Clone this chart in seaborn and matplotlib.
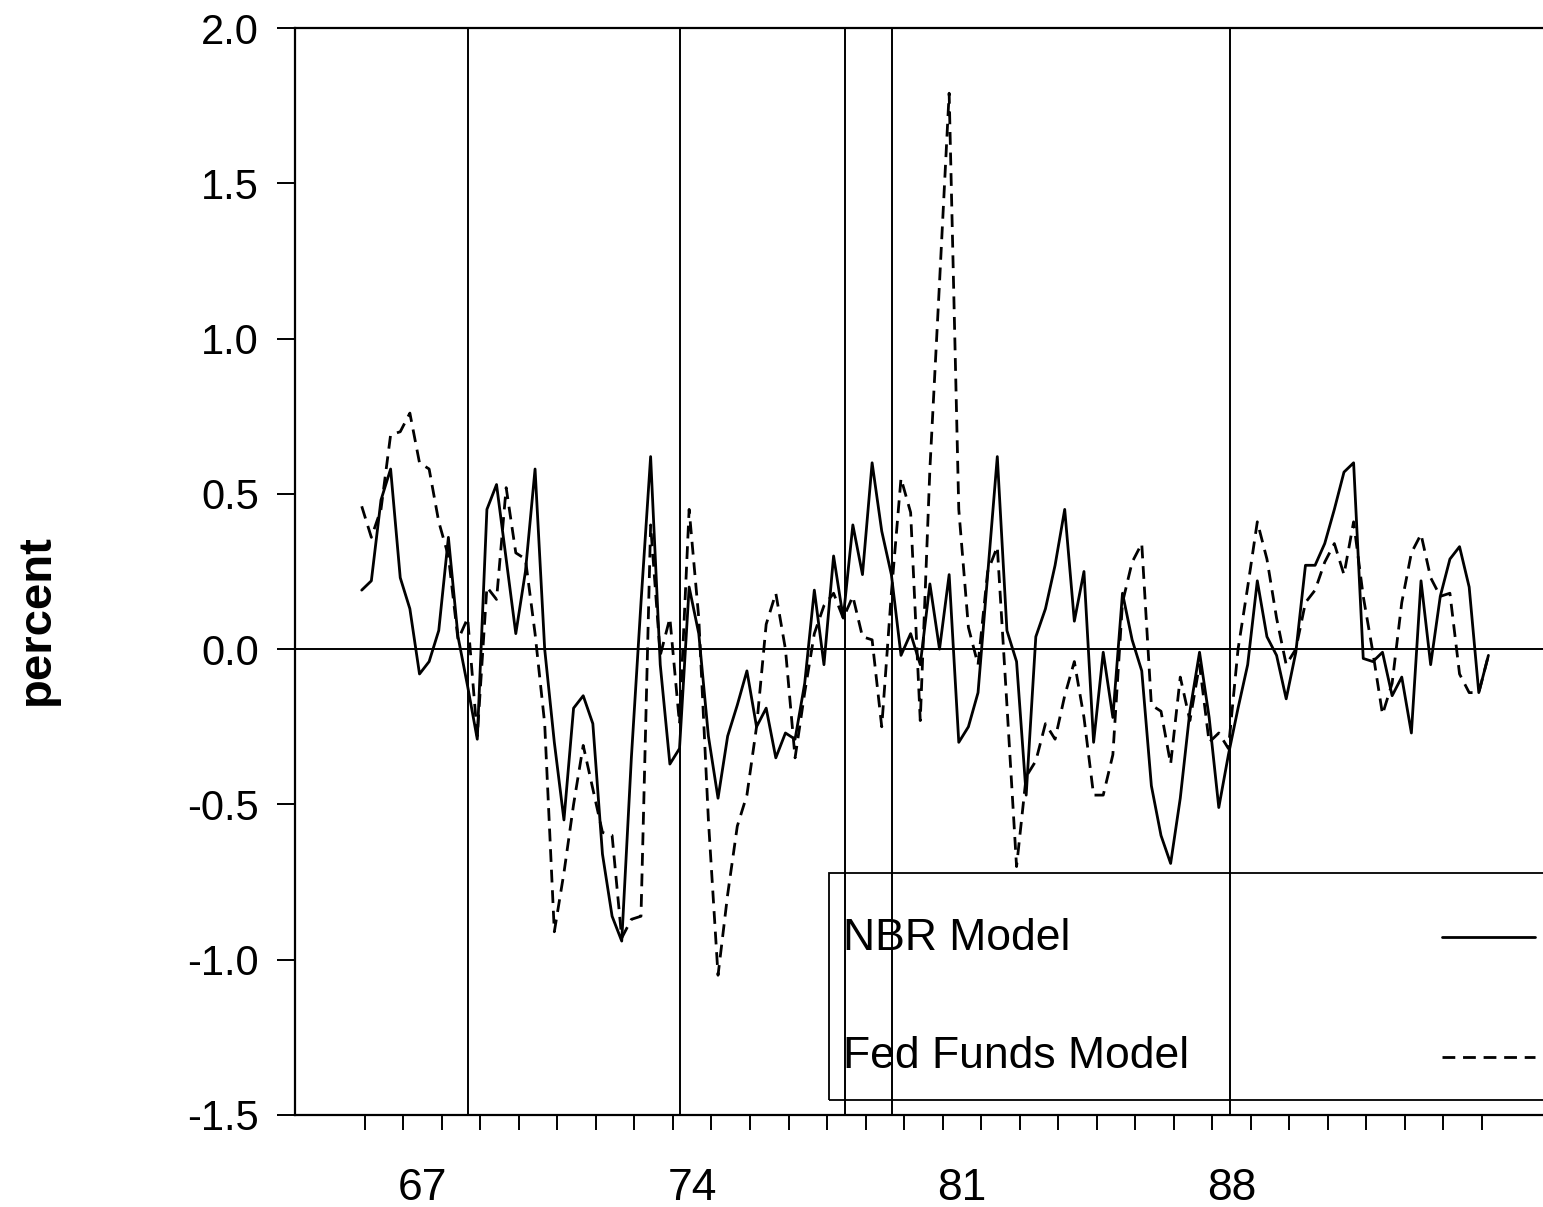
import numpy as np
import pandas as pd
import matplotlib
matplotlib.use("Agg")
import matplotlib.pyplot as plt
from matplotlib.lines import Line2D
from matplotlib.patches import Rectangle
import seaborn as sns

# ---------------- data ----------------
start_year = 65.92         # first quarter plotted (1966:Q1 as drawn)
quarter_step = 0.25

nbr_model = [
    0.19, 0.22, 0.48, 0.58, 0.23, 0.13, -0.08, -0.04, 0.06, 0.36,
    0.04, -0.12, -0.29, 0.45, 0.53, 0.29, 0.05, 0.25, 0.58, 0.00,
    -0.30, -0.55, -0.19, -0.15, -0.24, -0.66, -0.86, -0.94, -0.35, 0.15,
    0.62, -0.05, -0.37, -0.32, 0.20, 0.05, -0.28, -0.48, -0.28, -0.18,
    -0.07, -0.25, -0.19, -0.35, -0.27, -0.29, -0.11, 0.19, -0.05, 0.30,
    0.10, 0.40, 0.24, 0.60, 0.38, 0.24, -0.02, 0.05, -0.05, 0.21,
    0.00, 0.24, -0.30, -0.25, -0.14, 0.24, 0.62, 0.06, -0.04, -0.47,
    0.04, 0.13, 0.27, 0.45, 0.09, 0.25, -0.30, -0.01, -0.22, 0.18,
    0.03, -0.07, -0.44, -0.60, -0.69, -0.48, -0.20, -0.01, -0.22, -0.51,
    -0.34, -0.19, -0.05, 0.22, 0.04, -0.02, -0.16, -0.01, 0.27, 0.27,
    0.34, 0.45, 0.57, 0.60, -0.03, -0.04, -0.01, -0.15, -0.09, -0.27,
    0.22, -0.05, 0.17, 0.29, 0.33, 0.20, -0.14, -0.02,
]

fed_funds_model = [
    0.46, 0.36, 0.45, 0.69, 0.70, 0.76, 0.60, 0.58, 0.41, 0.30,
    0.03, 0.10, -0.28, 0.20, 0.16, 0.52, 0.31, 0.29, 0.05, -0.24,
    -0.91, -0.72, -0.50, -0.31, -0.45, -0.59, -0.60, -0.93, -0.87, -0.86,
    0.40, -0.02, 0.10, -0.24, 0.45, 0.10, -0.55, -1.05, -0.79, -0.57,
    -0.47, -0.25, 0.08, 0.18, 0.00, -0.35, -0.14, 0.05, 0.14, 0.18,
    0.10, 0.17, 0.04, 0.03, -0.25, 0.18, 0.55, 0.44, -0.23, 0.58,
    1.18, 1.79, 0.45, 0.07, -0.05, 0.25, 0.33, -0.18, -0.70, -0.41,
    -0.36, -0.24, -0.29, -0.15, -0.04, -0.22, -0.47, -0.47, -0.34, 0.15,
    0.28, 0.34, -0.18, -0.20, -0.37, -0.09, -0.23, -0.05, -0.30, -0.27,
    -0.32, 0.00, 0.20, 0.41, 0.29, 0.10, -0.05, 0.00, 0.15, 0.19,
    0.28, 0.34, 0.24, 0.41, 0.17, -0.01, -0.21, -0.11, 0.15, 0.31,
    0.37, 0.23, 0.17, 0.18, -0.08, -0.14, -0.14, -0.02,
]

event_dates = [68.68, 74.19, 78.47, 79.68, 88.46]   # vertical reference lines
year_ticks = list(range(66, 96))                     # yearly tick marks
year_labels = ["67", "74", "81", "88"]
year_label_pos = [67.5, 74.5, 81.5, 88.5]
y_ticks = [2.0, 1.5, 1.0, 0.5, 0.0, -0.5, -1.0, -1.5]
series_names = ["NBR Model", "Fed Funds Model"]

n = len(nbr_model)
years = [start_year + quarter_step * i for i in range(n)]
df = pd.DataFrame({
    "year": years * 2,
    "value": nbr_model + fed_funds_model,
    "model": [series_names[0]] * n + [series_names[1]] * n,
})

# ---------------- style ----------------
sns.set_style("white")
plt.rcParams["font.family"] = ["Liberation Sans", "DejaVu Sans"]

W, H = 1543, 1207
fig = plt.figure(figsize=(W / 100, H / 100), dpi=100)
ax_left_px, ax_top_px, ax_bottom_px = 295, 28, 1115
ax_right_px = 1.03 * W
ax = fig.add_axes([ax_left_px / W, 1 - ax_bottom_px / H,
                   (ax_right_px - ax_left_px) / W,
                   (ax_bottom_px - ax_top_px) / H])

px_per_year = 38.52
x_left = 66 - (364.8 - ax_left_px) / px_per_year
x_right = x_left + (ax_right_px - ax_left_px) / px_per_year

lw_data = 2.0
dash_pat = (4.6, 2.8)
sns.lineplot(data=df, x="year", y="value", style="model",
             dashes={series_names[0]: "", series_names[1]: dash_pat},
             color="black", linewidth=lw_data, legend=False, ax=ax,
             estimator=None, sort=False)

ax.axhline(0, color="black", lw=1.4, zorder=1)
for d in event_dates:
    ax.axvline(d, color="black", lw=1.4, zorder=1)

ax.set_xlim(x_left, x_right)
ax.set_ylim(-1.5, 2.0)

# spines
for s in ["left", "top", "bottom", "right"]:
    ax.spines[s].set_color("black")
    ax.spines[s].set_linewidth(1.6)

# x ticks: yearly marks, labels centered within years
ax.set_xticks(year_ticks)
ax.set_xticklabels([""] * len(year_ticks))
ax.tick_params(axis="x", which="major", direction="out", length=11,
               width=1.4, color="black", bottom=True)
ax.set_xticks(year_label_pos, minor=True)
ax.set_xticklabels(year_labels, minor=True)
ax.tick_params(axis="x", which="minor", length=0, pad=38,
               labelsize=32, labelcolor="black")

ax.set_yticks(y_ticks)
ax.set_yticklabels([f"{v:.1f}" for v in y_ticks])
ax.tick_params(axis="y", direction="out", length=13, width=1.4,
               color="black", left=True, pad=13, labelsize=30,
               labelcolor="black")
ax.set_xlabel("")
ax.set_ylabel("")

fig.text(37 / W, 1 - 620 / H, "percent", rotation=90, fontsize=34,
         fontweight="bold", ha="center", va="center", color="black")

# legend box (drawn as in the original, extending past the right edge)
tf = fig.transFigure
fig.patches.append(Rectangle((829 / W, 1 - 1100 / H), (W + 40 - 829) / W,
                             (1100 - 873) / H, transform=tf, fill=False,
                             edgecolor="black", lw=1.3, zorder=5))
fig.text(843 / W, 1 - 938 / H, series_names[0], fontsize=32,
         ha="left", va="center", color="black")
fig.text(843 / W, 1 - 1057 / H, series_names[1], fontsize=32,
         ha="left", va="center", color="black")
fig.lines.append(Line2D([1442 / W, 1535 / W], [1 - 937 / H, 1 - 937 / H],
                        transform=tf, color="black", lw=lw_data))
fig.lines.append(Line2D([1442 / W, 1535 / W], [1 - 1057 / H, 1 - 1057 / H],
                        transform=tf, color="black", lw=lw_data,
                        dashes=dash_pat))

fig.savefig("out.png", dpi=100)
